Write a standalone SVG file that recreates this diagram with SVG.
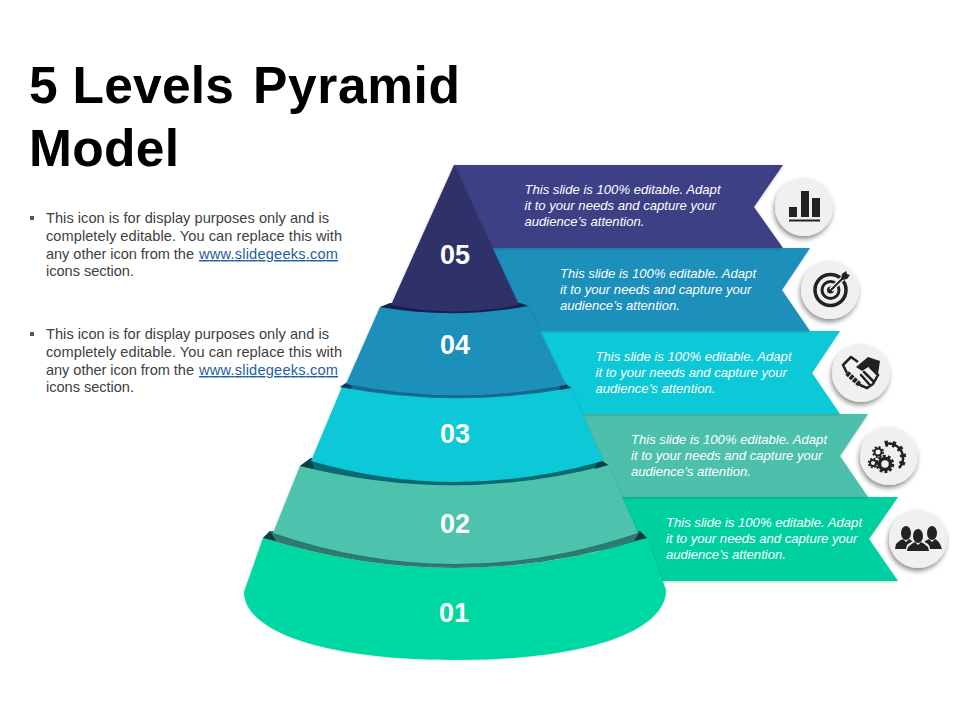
<svg xmlns="http://www.w3.org/2000/svg" width="960" height="720" viewBox="0 0 960 720">
<style>
.t{font-family:"Liberation Sans",Arial,sans-serif}
.title{font-size:51.5px;font-weight:700;fill:#000}
.body{font-size:14.6px;fill:#404040}
.link{fill:#1d5f9e;text-decoration:underline}
.ban{font-size:13.1px;font-style:italic;fill:#fff}
.num{font-size:27px;font-weight:700;fill:#fff;text-anchor:middle}
.ic{fill:#222}
.ln{fill:none;stroke:#222}
.circ{fill:#f0f0f0;filter:url(#cs)}
</style>
<defs>
<filter id="bs" x="-5%" y="-10%" width="110%" height="120%"><feDropShadow dx="0" dy="1" stdDeviation="1.5" flood-color="#000" flood-opacity=".2"/></filter>
<filter id="cs" x="-30%" y="-30%" width="160%" height="160%"><feDropShadow dx="-1" dy="3" stdDeviation="2.5" flood-color="#000" flood-opacity=".45"/></filter>
<filter id="ps" x="-5%" y="-5%" width="110%" height="110%"><feDropShadow dx="0" dy="0" stdDeviation="1.2" flood-color="#000" flood-opacity=".22"/></filter>
</defs>
<rect width="960" height="720" fill="#fff"/>
<g id="title"><text class="t title" x="29" y="103" textLength="205">5 Levels</text><text class="t title" x="253" y="103" textLength="207">Pyramid</text><text class="t title" x="29" y="166" textLength="150">Model</text></g>
<g id="left-text">
<rect x="30" y="216" width="4" height="4" fill="#555"/>
<text class="t body" x="46" y="223" textLength="283">This icon is for display purposes only and is</text>
<text class="t body" x="46" y="241" textLength="296">completely editable. You can replace this with</text>
<text class="t body" x="46" y="259" textLength="148">any other icon from the</text>
<text class="t body link" x="199" y="259" textLength="139">www.slidegeeks.com</text>
<text class="t body" x="46" y="276" textLength="88">icons section.</text>
<rect x="30" y="332" width="4" height="4" fill="#555"/>
<text class="t body" x="46" y="339" textLength="283">This icon is for display purposes only and is</text>
<text class="t body" x="46" y="357" textLength="296">completely editable. You can replace this with</text>
<text class="t body" x="46" y="375" textLength="148">any other icon from the</text>
<text class="t body link" x="199" y="375" textLength="139">www.slidegeeks.com</text>
<text class="t body" x="46" y="392" textLength="88">icons section.</text>
</g>
<g id="banner-1"><path filter="url(#bs)" fill="#00d0a0" d="M600,497H898L869,539L898,581H600Z"/></g>
<g id="banner-2"><path filter="url(#bs)" fill="#4dc0ab" d="M570,414H868L840,456L868,497H570Z"/></g>
<g id="banner-3"><path filter="url(#bs)" fill="#07c9d8" d="M530,331H840L812,373L840,414H530Z"/></g>
<g id="banner-4"><path filter="url(#bs)" fill="#1f8fbb" d="M490,248H810L782,290L810,331H490Z"/></g>
<g id="banner-5"><path filter="url(#bs)" fill="#3c3f85" d="M454,165H783L754,207L783,248H454Z"/></g>
<g id="banner-text">
<text class="t ban" x="524.500" y="193.500">This slide is 100% editable. Adapt</text><text class="t ban" x="524.500" y="209.500">it to your needs and capture your</text><text class="t ban" x="524.500" y="225.500">audience’s attention.</text>
<text class="t ban" x="560" y="277.500">This slide is 100% editable. Adapt</text><text class="t ban" x="560" y="293.500">it to your needs and capture your</text><text class="t ban" x="560" y="309.500">audience’s attention.</text>
<text class="t ban" x="595.500" y="360.500">This slide is 100% editable. Adapt</text><text class="t ban" x="595.500" y="376.500">it to your needs and capture your</text><text class="t ban" x="595.500" y="392.500">audience’s attention.</text>
<text class="t ban" x="631" y="443.500">This slide is 100% editable. Adapt</text><text class="t ban" x="631" y="459.500">it to your needs and capture your</text><text class="t ban" x="631" y="475.500">audience’s attention.</text>
<text class="t ban" x="666" y="526.500">This slide is 100% editable. Adapt</text><text class="t ban" x="666" y="542.500">it to your needs and capture your</text><text class="t ban" x="666" y="558.500">audience’s attention.</text>
</g>
<g id="level-01"><path filter="url(#ps)" fill="#00d8a3" d="M263,538Q455,598 647,538L666,590C666,630 590,660 455,660C320,660 244,630 244,592Z"/><text class="t num" x="454" y="622">01</text></g>
<g id="level-02"><path fill="#2e7b70" d="M263,538L270,531H640L647,538Q455,598 263,538Z"/><path fill="#0c3f45" d="M263,538L270,531L276,541ZM647,538L640,531L634,541Z"/><path filter="url(#ps)" fill="#4dc3ad" d="M300,466L608,465L638,533Q455,595 273,533Z"/><text class="t num" x="455" y="533">02</text></g>
<g id="level-03"><path fill="#0a6a72" d="M300,466L311,458H598L608,465Q455,505 300,466Z"/><path fill="#0c3f45" d="M300,466L311,458L314,469ZM608,465L598,458L595,469Z"/><path filter="url(#ps)" fill="#07c9d8" d="M342,387L571,388L603,461Q455,503 311,461Z"/><text class="t num" x="455" y="443">03</text></g>
<g id="level-04"><path fill="#146c92" d="M340,387L349,381H562L571,388Q455,409 340,387Z"/><path fill="#123a5e" d="M340,387L349,381L352,389ZM571,388L562,381L559,390Z"/><path filter="url(#ps)" fill="#1f8fbb" d="M380,307L528,306L566,385Q455,406 346,384Z"/><text class="t num" x="455" y="354">04</text></g>
<g id="level-05"><path fill="#17204f" d="M380,307L390,303H520L528,306Q455,320 380,307Z"/><path filter="url(#ps)" fill="#2f3069" d="M454,165L519,305Q455,318 391,305Z"/><text class="t num" x="455" y="264">05</text></g>
<g id="icon-1"><circle class="circ" cx="804" cy="207" r="29"/><path class="ic" d="M789,207h8v10h-8zM801,191h8v26h-8zM812,198h8v19h-8zM789,219.500h31v2h-31z"/></g>
<g id="icon-2"><circle class="circ" cx="830" cy="290" r="29"/><circle class="ln" cx="830.500" cy="290" r="15.500" stroke-width="3.500"/><circle class="ln" cx="830.500" cy="290" r="8.500" stroke-width="3"/><circle class="ic" cx="830.500" cy="290" r="3.500"/><path d="M831,290L845,276" stroke="#f0f0f0" stroke-width="5"/><path d="M831,290L845,276" stroke="#222" stroke-width="2"/><path class="ic" d="M841,279l1,-5l4,-3l1,3l3,1l-3,4l-5,1z"/></g>
<g id="icon-3"><circle class="circ" cx="861" cy="373" r="29"/><path class="ln" stroke-width="2.500" stroke-linejoin="round" d="M858,362L851,357L843,365L847,373"/><path class="ic" d="M856,367L868,357L880,361L878,374L870,366L862,371Z"/><path class="ln" stroke-width="5" stroke-dasharray="3.500 1" d="M847,373L860,385"/><path class="ln" stroke-width="2.500" stroke-linecap="round" d="M870,367L878,375L873,384L867,388L860,385M864,372L873,381M861,375L869,384"/></g>
<g id="icon-4"><circle class="circ" cx="889" cy="456" r="29"/><path class="ln" stroke-width="2.500" d="M885,444A14.400,14.400 0 0 1 899,468"/><path class="ln" stroke-width="6" stroke-dasharray="3 4.500" d="M885,444A14.400,14.400 0 0 1 899,468"/><circle class="ln" cx="885" cy="464" r="5.500" stroke-width="3.500"/><circle class="ln" cx="885" cy="464" r="8" stroke-width="2.500" stroke-dasharray="3 2.030"/><circle class="ln" cx="878" cy="452" r="3.500" stroke-width="2"/><circle class="ln" cx="878" cy="452" r="5" stroke-width="2" stroke-dasharray="2 1.930"/><circle class="ln" cx="873" cy="463" r="3" stroke-width="2"/><circle class="ln" cx="873" cy="463" r="4.500" stroke-width="1.500" stroke-dasharray="2 1.530"/></g>
<g id="icon-5"><circle class="circ" cx="918" cy="539" r="29"/><ellipse class="ic" cx="906" cy="533" rx="5" ry="7"/><path class="ic" d="M895,549L896,544Q898,541 903,539L906,542L909,539Q913,541 915,544L917,549Z"/><ellipse class="ic" cx="932" cy="533" rx="5" ry="7"/><path class="ic" d="M921,549L922,544Q924,541 929,539L932,542L935,539Q939,541 940,544L942,549Z"/><ellipse cx="918" cy="536" rx="6.500" ry="8.500" fill="#f0f0f0"/><path fill="#f0f0f0" d="M905,552L907,545Q911,541 918,540Q925,541 929,545L931,552Z"/><ellipse class="ic" cx="918" cy="536" rx="5" ry="7"/><path class="ic" d="M907,551L908,547Q911,544 915,542L918,545L921,542Q925,544 928,547L929,551Z"/></g>
</svg>
